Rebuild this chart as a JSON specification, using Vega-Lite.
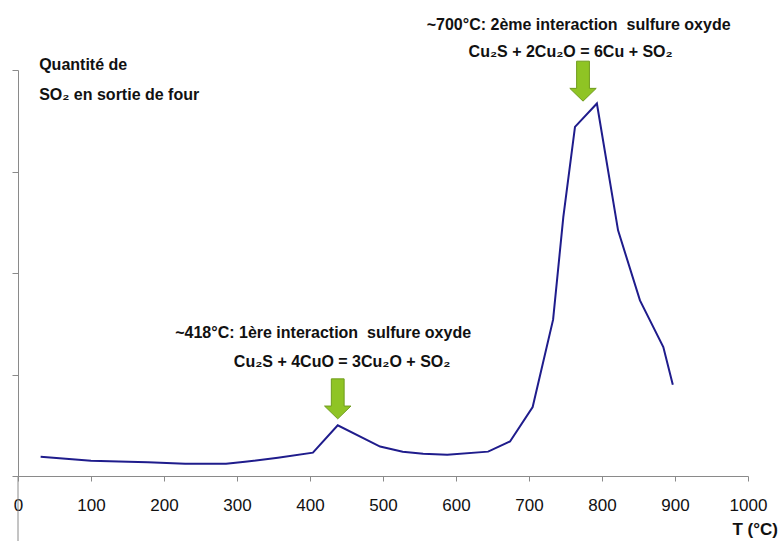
{
  "$schema": "https://vega.github.io/schema/vega-lite/v6.json",
  "width": 730,
  "height": 406,
  "autosize": "none",
  "padding": {"left": 18, "top": 70, "right": 34, "bottom": 65},
  "background": "white",
  "config": {"view": {"stroke": null}, "font": "Liberation Sans"},
  "datasets": {
    "curve": [
      {"T": 31, "SO2": 0.19},
      {"T": 100, "SO2": 0.15},
      {"T": 151, "SO2": 0.14},
      {"T": 178, "SO2": 0.135},
      {"T": 229, "SO2": 0.12},
      {"T": 285, "SO2": 0.12},
      {"T": 311, "SO2": 0.14},
      {"T": 356, "SO2": 0.18},
      {"T": 404, "SO2": 0.23},
      {"T": 438, "SO2": 0.5},
      {"T": 496, "SO2": 0.29},
      {"T": 527, "SO2": 0.24},
      {"T": 555, "SO2": 0.22},
      {"T": 588, "SO2": 0.21},
      {"T": 644, "SO2": 0.24},
      {"T": 674, "SO2": 0.34},
      {"T": 705, "SO2": 0.68},
      {"T": 733, "SO2": 1.54},
      {"T": 747, "SO2": 2.55},
      {"T": 763, "SO2": 3.44},
      {"T": 793, "SO2": 3.67},
      {"T": 822, "SO2": 2.42},
      {"T": 852, "SO2": 1.73},
      {"T": 884, "SO2": 1.27},
      {"T": 897, "SO2": 0.9}
    ],
    "leftText": [
      {"T": 29, "SO2": 4.05, "label": "Quantité de"},
      {"T": 29, "SO2": 3.75, "label": "SO₂ en sortie de four"}
    ],
    "centerText": [
      {"T": 768, "SO2": 4.44, "label": "~700°C: 2ème interaction \u00a0sulfure oxyde"},
      {"T": 757, "SO2": 4.18, "label": "Cu₂S + 2Cu₂O = 6Cu + SO₂"},
      {"T": 418, "SO2": 1.41, "label": "~418°C: 1ère interaction \u00a0sulfure oxyde"},
      {"T": 444, "SO2": 1.12, "label": "Cu₂S + 4CuO = 3Cu₂O + SO₂"}
    ],
    "axisTitle": [
      {"T": 1041, "SO2": -0.53, "label": "T (°C)"}
    ],
    "arrows": [
      {"T": 438, "SO2": 0.76},
      {"T": 774, "SO2": 3.89}
    ],
    "yline": [
      {"T": 0, "lo": -0.65, "hi": 0}
    ]
  },
  "layer": [
    {
      "data": {"name": "yline"},
      "mark": {"type": "rule", "color": "#8a8a8a", "strokeWidth": 1},
      "encoding": {
        "x": {"field": "T", "type": "quantitative", "scale": {"domain": [0, 1000], "nice": false}},
        "y": {"field": "lo", "type": "quantitative", "scale": {"domain": [0, 4], "nice": false}},
        "y2": {"field": "hi"}
      }
    },
    {
      "data": {"name": "curve"},
      "mark": {"type": "line", "color": "#1f1c8c", "strokeWidth": 2},
      "encoding": {
        "x": {
          "field": "T", "type": "quantitative",
          "scale": {"domain": [0, 1000], "nice": false},
          "axis": {
            "title": null, "grid": false, "format": "d",
            "values": [0, 100, 200, 300, 400, 500, 600, 700, 800, 900, 1000],
            "labelFontSize": 17, "labelColor": "#111111", "labelFont": "Liberation Sans",
            "labelFlush": false, "labelPadding": 16,
            "tickColor": "#8a8a8a", "tickSize": 5, "domainColor": "#8a8a8a"
          }
        },
        "y": {
          "field": "SO2", "type": "quantitative",
          "scale": {"domain": [0, 4], "nice": false},
          "axis": {
            "title": null, "grid": false, "labels": false,
            "values": [0, 1, 2, 3, 4],
            "tickColor": "#8a8a8a", "tickSize": 6, "domainColor": "#8a8a8a"
          }
        }
      }
    },
    {
      "data": {"name": "arrows"},
      "mark": {
        "type": "point", "filled": true, "size": 1600,
        "shape": "M-0.32,-1L0.32,-1L0.32,0.36L0.66,0.36L0,1L-0.66,0.36L-0.32,0.36Z",
        "color": "#8fc424", "stroke": "#6f9c1c", "strokeWidth": 1, "opacity": 1
      },
      "encoding": {
        "x": {"field": "T", "type": "quantitative"},
        "y": {"field": "SO2", "type": "quantitative"}
      }
    },
    {
      "data": {"name": "leftText"},
      "mark": {"type": "text", "align": "left", "baseline": "middle", "fontSize": 16, "fontWeight": "bold", "color": "#111111", "font": "Liberation Sans"},
      "encoding": {
        "x": {"field": "T", "type": "quantitative"},
        "y": {"field": "SO2", "type": "quantitative"},
        "text": {"field": "label"}
      }
    },
    {
      "data": {"name": "centerText"},
      "mark": {"type": "text", "align": "center", "baseline": "middle", "fontSize": 16, "fontWeight": "bold", "color": "#111111", "font": "Liberation Sans"},
      "encoding": {
        "x": {"field": "T", "type": "quantitative"},
        "y": {"field": "SO2", "type": "quantitative"},
        "text": {"field": "label"}
      }
    },
    {
      "data": {"name": "axisTitle"},
      "mark": {"type": "text", "align": "right", "baseline": "middle", "fontSize": 17, "fontWeight": "bold", "color": "#111111", "font": "Liberation Sans"},
      "encoding": {
        "x": {"field": "T", "type": "quantitative"},
        "y": {"field": "SO2", "type": "quantitative"},
        "text": {"field": "label"}
      }
    }
  ]
}
